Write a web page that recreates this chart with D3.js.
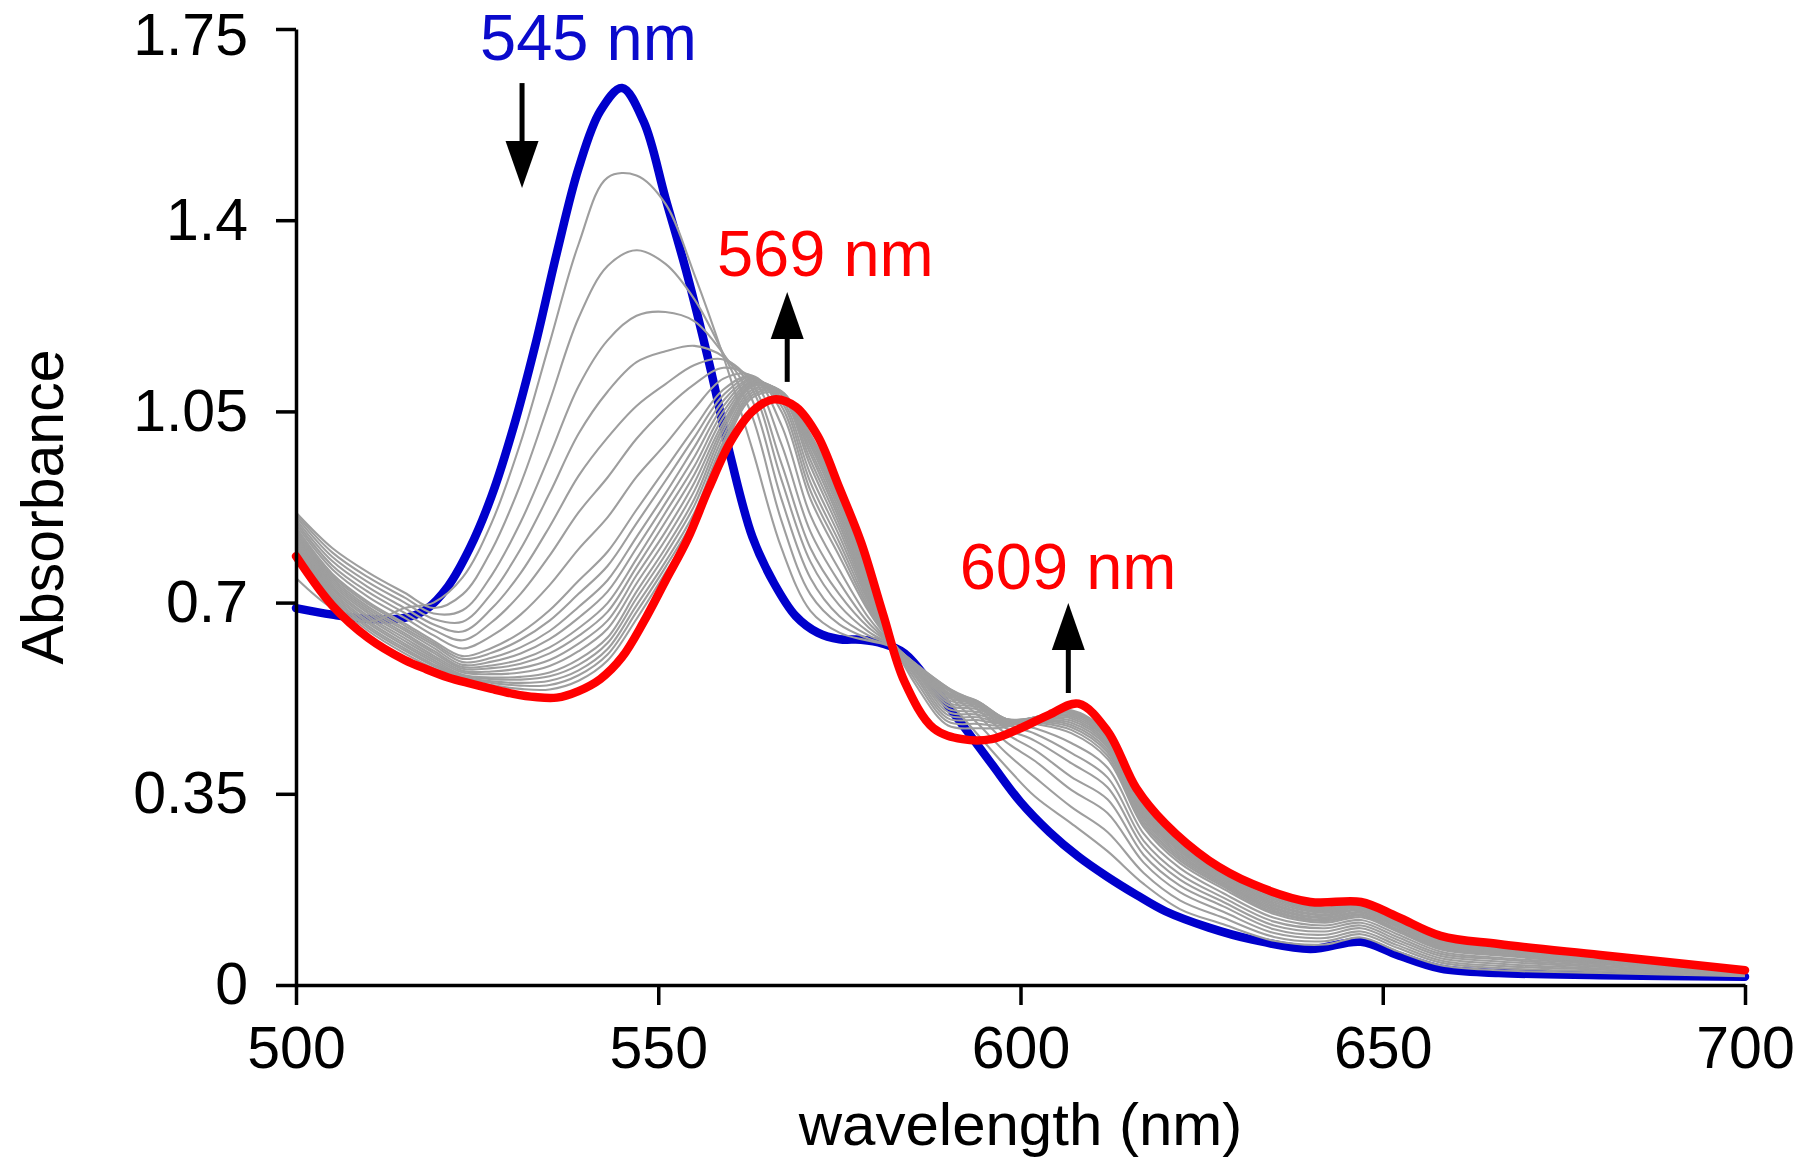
<!DOCTYPE html>
<html><head><meta charset="utf-8">
<script src="https://cdn.jsdelivr.net/npm/d3@7"></script>
<style>
html,body{margin:0;padding:0;background:#fff;}
svg{display:block;}
text{font-family:"Liberation Sans",Arial,Helvetica,sans-serif;}
</style></head><body>
<svg id="chart" width="1800" height="1168"></svg>
<script>
// ---------- data ----------
const wavelengths = [500,505,510,515,518,521,524,527,530,533,536,539,542,545,548,551,554,557,560,563,566,569,572,575,578,581,584,588,592,596,600,604,608,612,616,620,626,632,640,647,652,658,666,680,700];
const blueAbs = [0.690,0.678,0.670,0.672,0.688,0.73,0.80,0.895,1.02,1.17,1.34,1.495,1.60,1.642,1.58,1.44,1.30,1.14,0.966,0.82,0.735,0.675,0.645,0.633,0.632,0.625,0.607,0.545,0.476,0.405,0.335,0.28,0.235,0.198,0.165,0.135,0.105,0.083,0.066,0.079,0.055,0.030,0.022,0.018,0.015];
const redAbs = [0.785,0.695,0.635,0.595,0.578,0.563,0.552,0.542,0.533,0.527,0.526,0.538,0.56,0.60,0.665,0.74,0.815,0.91,0.995,1.05,1.072,1.058,1.005,0.91,0.81,0.68,0.555,0.47,0.45,0.45,0.47,0.495,0.515,0.465,0.36,0.295,0.228,0.185,0.152,0.152,0.125,0.09,0.075,0.055,0.027];

const grayWavelengths = [500,505,510,515,519,523,527,531,535,539,543,547,551,555,559,563,567,571,575,579,582,586,590,594,598,602,607,612,617,622,628,635,642,647,652,658,666,680,700];
const graySpectra = [
 [0.745,0.69,0.665,0.69,0.70, 0.746,0.846,0.993,1.175,1.356, 1.478,1.482,1.43,1.30,1.15, 0.98,0.80,0.685,0.645,0.63, 0.620,0.575,0.52,0.46,0.40, 0.345,0.296,0.245,0.185,0.139, 0.111,0.081,0.074,0.087,0.062, 0.036,0.027,0.022,0.016],
 [0.865,0.800,0.755,0.718,0.69, 0.715,0.796,0.917,1.068,1.221, 1.316,1.345,1.32,1.255,1.155, 1.04,0.85,0.715,0.66,0.634, 0.621,0.578,0.53,0.48,0.425, 0.38,0.326,0.28,0.205,0.155, 0.123,0.088,0.08,0.093,0.068, 0.041,0.031,0.025,0.017],
 [0.862,0.792,0.746,0.709,0.68, 0.686,0.750,0.847,0.969,1.096, 1.18,1.225,1.232,1.215,1.155, 1.07,0.89,0.745,0.675,0.64, 0.623,0.58,0.535,0.495,0.445, 0.41,0.357,0.315,0.224,0.17, 0.134,0.095,0.086,0.098,0.073, 0.045,0.035,0.028,0.018],
 [0.858,0.784,0.737,0.70,0.67, 0.665,0.717,0.798,0.90,1.009, 1.086,1.14,1.16,1.17,1.15, 1.09,0.925,0.775,0.695,0.647, 0.624,0.582,0.54,0.505,0.46, 0.43,0.381,0.34,0.238,0.182, 0.144,0.102,0.092,0.104,0.078, 0.049,0.039,0.03,0.019],
 [0.853,0.776,0.728,0.69,0.66, 0.647,0.689,0.754,0.839,0.932, 1.002,1.06,1.10,1.135,1.145, 1.10,0.955,0.80,0.715,0.655, 0.626,0.583,0.544,0.512,0.47, 0.447,0.406,0.362,0.252,0.193, 0.152,0.109,0.098,0.109,0.083, 0.053,0.043,0.033,0.02],
 [0.848,0.768,0.719,0.681,0.65, 0.631,0.664,0.716,0.786,0.865, 0.929,1.0,1.055,1.10,1.13, 1.11,0.99,0.83,0.737,0.663, 0.627,0.583,0.544,0.517,0.478, 0.46,0.425,0.38,0.264,0.203, 0.16,0.116,0.104,0.114,0.088, 0.057,0.047,0.035,0.021],
 [0.843,0.761,0.710,0.672,0.64, 0.616,0.639,0.678,0.732,0.798, 0.856,0.93,0.99,1.055,1.11, 1.115,1.025,0.86,0.76,0.673, 0.628,0.582,0.54,0.52,0.483, 0.47,0.443,0.398,0.277,0.214, 0.168,0.123,0.109,0.119,0.093, 0.061,0.05,0.038,0.022],
 [0.838,0.753,0.701,0.662,0.63, 0.602,0.617,0.645,0.686,0.74, 0.793,0.87,0.945,1.02,1.09, 1.115,1.05,0.89,0.785,0.685, 0.630,0.58,0.535,0.52,0.486, 0.478,0.461,0.414,0.289,0.223, 0.176,0.13,0.114,0.124,0.098, 0.065,0.054,0.04,0.022],
 [0.835,0.749,0.697,0.658,0.626, 0.597,0.608,0.632,0.667,0.716, 0.767,0.845,0.923,1.003,1.08, 1.113,1.06,0.905,0.798,0.69, 0.631,0.579,0.533,0.519,0.487, 0.481,0.467,0.42,0.294,0.228, 0.18,0.133,0.117,0.127,0.101, 0.067,0.056,0.042,0.023],
 [0.832,0.745,0.692,0.653,0.622, 0.591,0.599,0.618,0.648,0.692, 0.741,0.82,0.90,0.985,1.07, 1.11,1.068,0.92,0.81,0.696, 0.631,0.578,0.53,0.517,0.487, 0.483,0.472,0.426,0.299,0.232, 0.183,0.136,0.119,0.129,0.103, 0.069,0.057,0.043,0.023],
 [0.829,0.741,0.688,0.649,0.617, 0.586,0.592,0.607,0.633,0.672, 0.72,0.80,0.882,0.967,1.06, 1.108,1.074,0.935,0.822,0.702, 0.632,0.577,0.526,0.515,0.487, 0.485,0.476,0.431,0.304,0.236, 0.186,0.139,0.122,0.132,0.106, 0.071,0.059,0.044,0.024],
 [0.826,0.737,0.684,0.644,0.612, 0.582,0.585,0.596,0.618,0.653, 0.699,0.78,0.865,0.95,1.05, 1.105,1.08,0.95,0.833,0.707, 0.632,0.575,0.522,0.512,0.487, 0.486,0.48,0.436,0.308,0.24, 0.188,0.142,0.124,0.134,0.108, 0.073,0.061,0.045,0.024],
 [0.823,0.733,0.68,0.64,0.608, 0.579,0.58,0.588,0.607,0.639, 0.683,0.765,0.848,0.935,1.04, 1.103,1.083,0.961,0.843,0.712, 0.633,0.573,0.517,0.509,0.486, 0.487,0.484,0.44,0.312,0.244, 0.191,0.145,0.127,0.137,0.11, 0.075,0.063,0.046,0.025],
 [0.82,0.729,0.675,0.635,0.603, 0.575,0.574,0.58,0.595,0.625, 0.667,0.75,0.83,0.92,1.03, 1.10,1.085,0.972,0.852,0.717, 0.634,0.57,0.512,0.505,0.485, 0.488,0.488,0.444,0.315,0.247, 0.194,0.148,0.129,0.139,0.112, 0.077,0.064,0.047,0.025],
 [0.817,0.725,0.671,0.63,0.599, 0.572,0.569,0.572,0.584,0.611, 0.652,0.735,0.815,0.905,1.023, 1.098,1.086,0.98,0.86,0.723, 0.635,0.568,0.506,0.5,0.484, 0.489,0.491,0.448,0.319,0.25, 0.197,0.151,0.132,0.141,0.114, 0.079,0.066,0.048,0.025],
 [0.814,0.721,0.666,0.625,0.595, 0.568,0.563,0.564,0.572,0.596, 0.636,0.72,0.80,0.89,1.015, 1.095,1.087,0.988,0.868,0.728, 0.635,0.565,0.50,0.495,0.482, 0.489,0.494,0.451,0.323,0.253, 0.199,0.154,0.134,0.143,0.116, 0.081,0.067,0.049,0.025],
 [0.811,0.717,0.662,0.621,0.591, 0.566,0.56,0.559,0.565,0.586, 0.626,0.708,0.788,0.878,1.005, 1.09,1.086,0.994,0.876,0.734, 0.636,0.56,0.494,0.49,0.48, 0.49,0.497,0.454,0.327,0.256, 0.201,0.157,0.136,0.145,0.118, 0.083,0.069,0.05,0.026],
 [0.808,0.713,0.657,0.616,0.587, 0.564,0.556,0.553,0.557,0.576, 0.615,0.695,0.775,0.865,0.995, 1.085,1.085,1.0,0.883,0.739, 0.637,0.555,0.488,0.485,0.478, 0.49,0.499,0.456,0.33,0.259, 0.203,0.159,0.138,0.146,0.119, 0.084,0.07,0.051,0.026],
 [0.804,0.709,0.653,0.612,0.584, 0.562,0.553,0.548,0.549,0.567, 0.605,0.683,0.765,0.855,0.988, 1.08,1.084,1.004,0.89,0.745, 0.638,0.548,0.482,0.478,0.475, 0.49,0.501,0.458,0.333,0.262, 0.206,0.162,0.14,0.148,0.121, 0.086,0.071,0.052,0.026],
 [0.80,0.705,0.648,0.607,0.58, 0.56,0.549,0.542,0.541,0.557, 0.594,0.67,0.755,0.845,0.98, 1.075,1.082,1.008,0.897,0.75, 0.638,0.54,0.475,0.47,0.472, 0.49,0.503,0.46,0.335,0.264, 0.208,0.164,0.142,0.149,0.122, 0.087,0.072,0.053,0.026]
];

const xTicks = [500,550,600,650,700];
const yTicks = [0,0.35,0.7,1.05,1.4,1.75];
const yTickLabels = ["0","0.35","0.7","1.05","1.4","1.75"];
const xTitle = "wavelength (nm)";
const yTitle = "Absorbance";
const peakLabels = ["545 nm","569 nm","609 nm"];
const peakColors = ["#0a0acc","#ff0000","#ff0000"];
// label anchor (wavelength, absorbance at baseline)
const labelAnchors = [[525.4,1.693],[558.1,1.298],[591.6,0.725]];
// arrows: wavelength, tail absorbance, tip absorbance
const arrowDefs = [[531.2,1.651,1.459],[567.8,1.104,1.2685],[606.6,0.5345,0.6993]];

// ---------- drawing ----------
const svg = d3.select("#chart");
const x = d3.scaleLinear().domain([500,700]).range([296,1745]);
const y = d3.scaleLinear().domain([0,1.75]).range([985,29]);

const line = d3.line()
  .x(d => x(d[0])).y(d => y(d[1]))
  .curve(d3.curveCatmullRom.alpha(0.5));

const plot = svg.append("g");

// blue first (under greys)
plot.append("path")
  .attr("d", line(wavelengths.map((w,i)=>[w, blueAbs[i]])))
  .attr("fill","none").attr("stroke","#0000cc").attr("stroke-width",8.5)
  .attr("stroke-linejoin","round").attr("stroke-linecap","round");

graySpectra.forEach(s => {
  plot.append("path")
    .attr("d", line(grayWavelengths.map((w,i)=>[w, s[i]])))
    .attr("fill","none").attr("stroke","#9e9e9e").attr("stroke-width",2.1);
});

plot.append("path")
  .attr("d", line(wavelengths.map((w,i)=>[w, redAbs[i]])))
  .attr("fill","none").attr("stroke","#ff0000").attr("stroke-width",8.5)
  .attr("stroke-linejoin","round").attr("stroke-linecap","round");

// axes
const yAxis = d3.axisLeft(y).tickValues(yTicks)
  .tickFormat((d,i)=>yTickLabels[i]).tickSize(20).tickSizeOuter(0).tickPadding(28);
const xAxis = d3.axisBottom(x).tickValues(xTicks)
  .tickFormat(d3.format("d")).tickSize(20).tickSizeOuter(0).tickPadding(21);

const gy = svg.append("g").attr("transform","translate(296,0)").call(yAxis);
const gx = svg.append("g").attr("transform","translate(0,985)").call(xAxis);
[gx, gy].forEach(g => {
  g.selectAll("path.domain").attr("stroke","#000").attr("stroke-width",3.5);
  g.selectAll(".tick line").attr("stroke","#000").attr("stroke-width",3.5);
  g.selectAll(".tick text").attr("fill","#000")
    .style("font-size","59px").style("font-family",'"Liberation Sans",Arial,sans-serif');
});
// keep the top label fully inside the picture
gy.selectAll(".tick text").filter(d => d === 1.75).attr("dy","0.44em");

// axis titles
svg.append("text").attr("x", (x(500)+x(700))/2).attr("y", 1145)
  .attr("text-anchor","middle").style("font-size","60px").attr("fill","#000").text(xTitle);
svg.append("text").attr("transform", `translate(63,${(y(0)+y(1.75))/2}) rotate(-90)`)
  .attr("text-anchor","middle").style("font-size","59px").attr("fill","#000").text(yTitle);

// peak labels
peakLabels.forEach((t,i) => {
  svg.append("text").attr("x", x(labelAnchors[i][0])).attr("y", y(labelAnchors[i][1]))
    .style("font-size","65px").attr("fill", peakColors[i]).text(t);
});

// arrows
const headW = 33, headH = 47;
arrowDefs.forEach(a => {
  const ax = x(a[0]), y0 = y(a[1]), y1 = y(a[2]);
  const dir = y1 > y0 ? 1 : -1;
  const baseY = y1 - dir*headH;
  svg.append("line").attr("x1",ax).attr("x2",ax).attr("y1",y0).attr("y2",baseY + dir*2)
    .attr("stroke","#000").attr("stroke-width",5);
  svg.append("path")
    .attr("d", `M${ax-headW/2},${baseY}L${ax+headW/2},${baseY}L${ax},${y1}Z`)
    .attr("fill","#000");
});
</script>
</body></html>
